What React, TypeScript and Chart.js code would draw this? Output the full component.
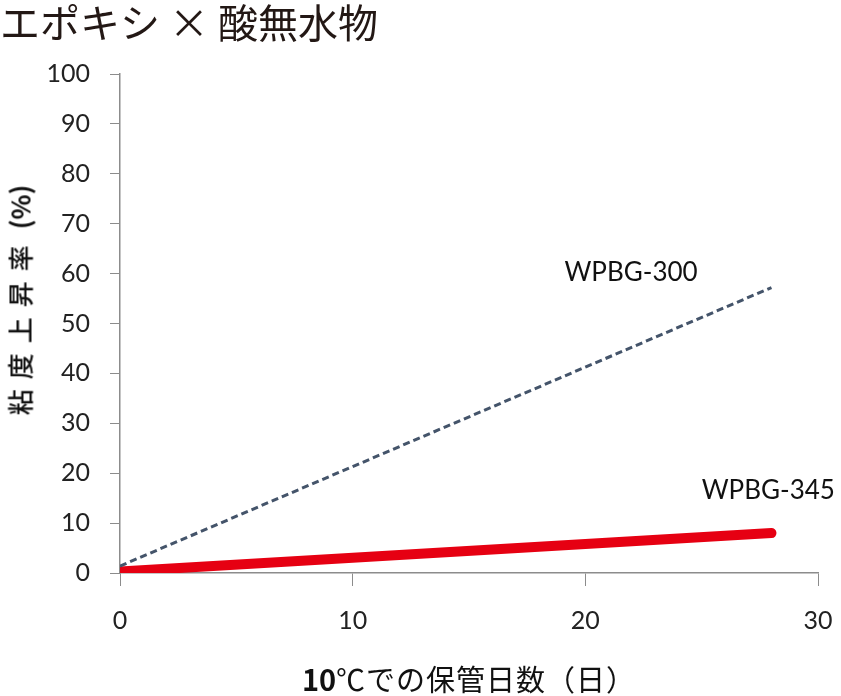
import { useEffect, useRef } from "react";
import Chart from "chart.js/auto";

const days = [0, 28];
const wpbg300 = [1.4, 57.2];
const wpbg345 = [0.3, 8.0];
const seriesNames = ["WPBG-300", "WPBG-345"];
// where each series name sits, in data units (x, y)
const labelSpots = [
  [19.1, 60.1],
  [25.0, 16.6],
];

const jp = '"Noto Sans CJK JP", "Noto Sans", sans-serif';
const num = 'Lato, "Open Sans", sans-serif';

const seriesLabels = {
  id: "seriesLabels",
  afterDatasetsDraw(chart: Chart) {
    const { ctx, scales } = chart;
    ctx.save();
    ctx.font = `26px ${num}`;
    ctx.fillStyle = "#111";
    ctx.textAlign = "left";
    ctx.textBaseline = "middle";
    seriesNames.forEach((name, i) => {
      const [vx, vy] = labelSpots[i];
      ctx.fillText(name, scales.x.getPixelForValue(vx), scales.y.getPixelForValue(vy));
    });
    ctx.restore();
  },
};

export default function App() {
  const chartRef = useRef<HTMLCanvasElement>(null);
  const chartInstance = useRef<Chart | null>(null);

  useEffect(() => {
    document.body.style.margin = "0";
    if (!chartRef.current) return;
    if (chartInstance.current) chartInstance.current.destroy();
    const ctx = chartRef.current.getContext("2d");
    if (!ctx) return;

    chartInstance.current = new Chart(ctx, {
      type: "line",
      data: {
        datasets: [
          {
            label: seriesNames[0],
            data: days.map((d, i) => ({ x: d, y: wpbg300[i] })),
            borderColor: "#44546a",
            borderWidth: 3,
            borderDash: [7, 4],
            pointRadius: 0,
          },
          {
            label: seriesNames[1],
            data: days.map((d, i) => ({ x: d, y: wpbg345[i] })),
            borderColor: "#e60012",
            borderWidth: 10,
            borderCapStyle: "round",
            pointRadius: 0,
          },
        ],
      },
      options: {
        animation: false,
        responsive: false,
        maintainAspectRatio: false,
        layout: { padding: { left: 0, right: 23, top: 74, bottom: 0 } },
        plugins: {
          legend: { display: false },
          tooltip: { enabled: false },
        },
        scales: {
          x: {
            type: "linear",
            min: 0,
            max: 30,
            ticks: {
              stepSize: 10,
              color: "#222",
              font: { family: num, size: 25 },
              padding: 20,
            },
            grid: {
              display: true,
              drawOnChartArea: false,
              drawTicks: true,
              tickLength: 13,
              color: "#8c8c8c",
            },
            border: { display: true, color: "#8c8c8c", width: 1.5 },
            afterFit: (scale) => {
              scale.height = 123;
              scale.paddingLeft = 0;
              scale.paddingRight = 0;
            },
          },
          y: {
            min: 0,
            max: 100,
            ticks: {
              stepSize: 10,
              color: "#222",
              font: { family: num, size: 25 },
              padding: 20,
            },
            grid: {
              display: true,
              drawOnChartArea: false,
              drawTicks: true,
              tickLength: 10,
              color: "#8c8c8c",
            },
            border: { display: true, color: "#8c8c8c", width: 1.5 },
            afterFit: (scale) => {
              scale.width = 120;
            },
          },
        },
      },
      plugins: [seriesLabels],
    });

    return () => {
      if (chartInstance.current) {
        chartInstance.current.destroy();
        chartInstance.current = null;
      }
    };
  }, []);

  return (
    <div style={{ position: "relative", width: 841, height: 696, background: "#fff" }}>
      <canvas ref={chartRef} width={841} height={696} style={{ position: "absolute", left: 0, top: 0 }} />
      <div
        style={{
          position: "absolute",
          left: 0,
          top: -8,
          fontFamily: jp,
          fontSize: 40,
          color: "#231815",
          whiteSpace: "nowrap",
        }}
      >
        エポキシ × 酸無水物
      </div>
      <div
        style={{
          position: "absolute",
          left: 19,
          top: 300,
          transform: "translate(-50%, -50%) rotate(-90deg)",
          fontFamily: jp,
          fontSize: 26,
          fontWeight: 500,
          letterSpacing: 10,
          color: "#111",
          whiteSpace: "nowrap",
        }}
      >
        粘度上昇率<span style={{ fontWeight: 700, letterSpacing: 0 }}> (%)</span>
      </div>
      <div
        style={{
          position: "absolute",
          left: 469,
          top: 678,
          transform: "translate(-50%, -50%)",
          fontFamily: jp,
          fontSize: 29,
          letterSpacing: 1,
          color: "#111",
          whiteSpace: "nowrap",
        }}
      >
        <span style={{ fontWeight: 700, letterSpacing: 0 }}>10</span>℃での保管日数（日）
      </div>
    </div>
  );
}
